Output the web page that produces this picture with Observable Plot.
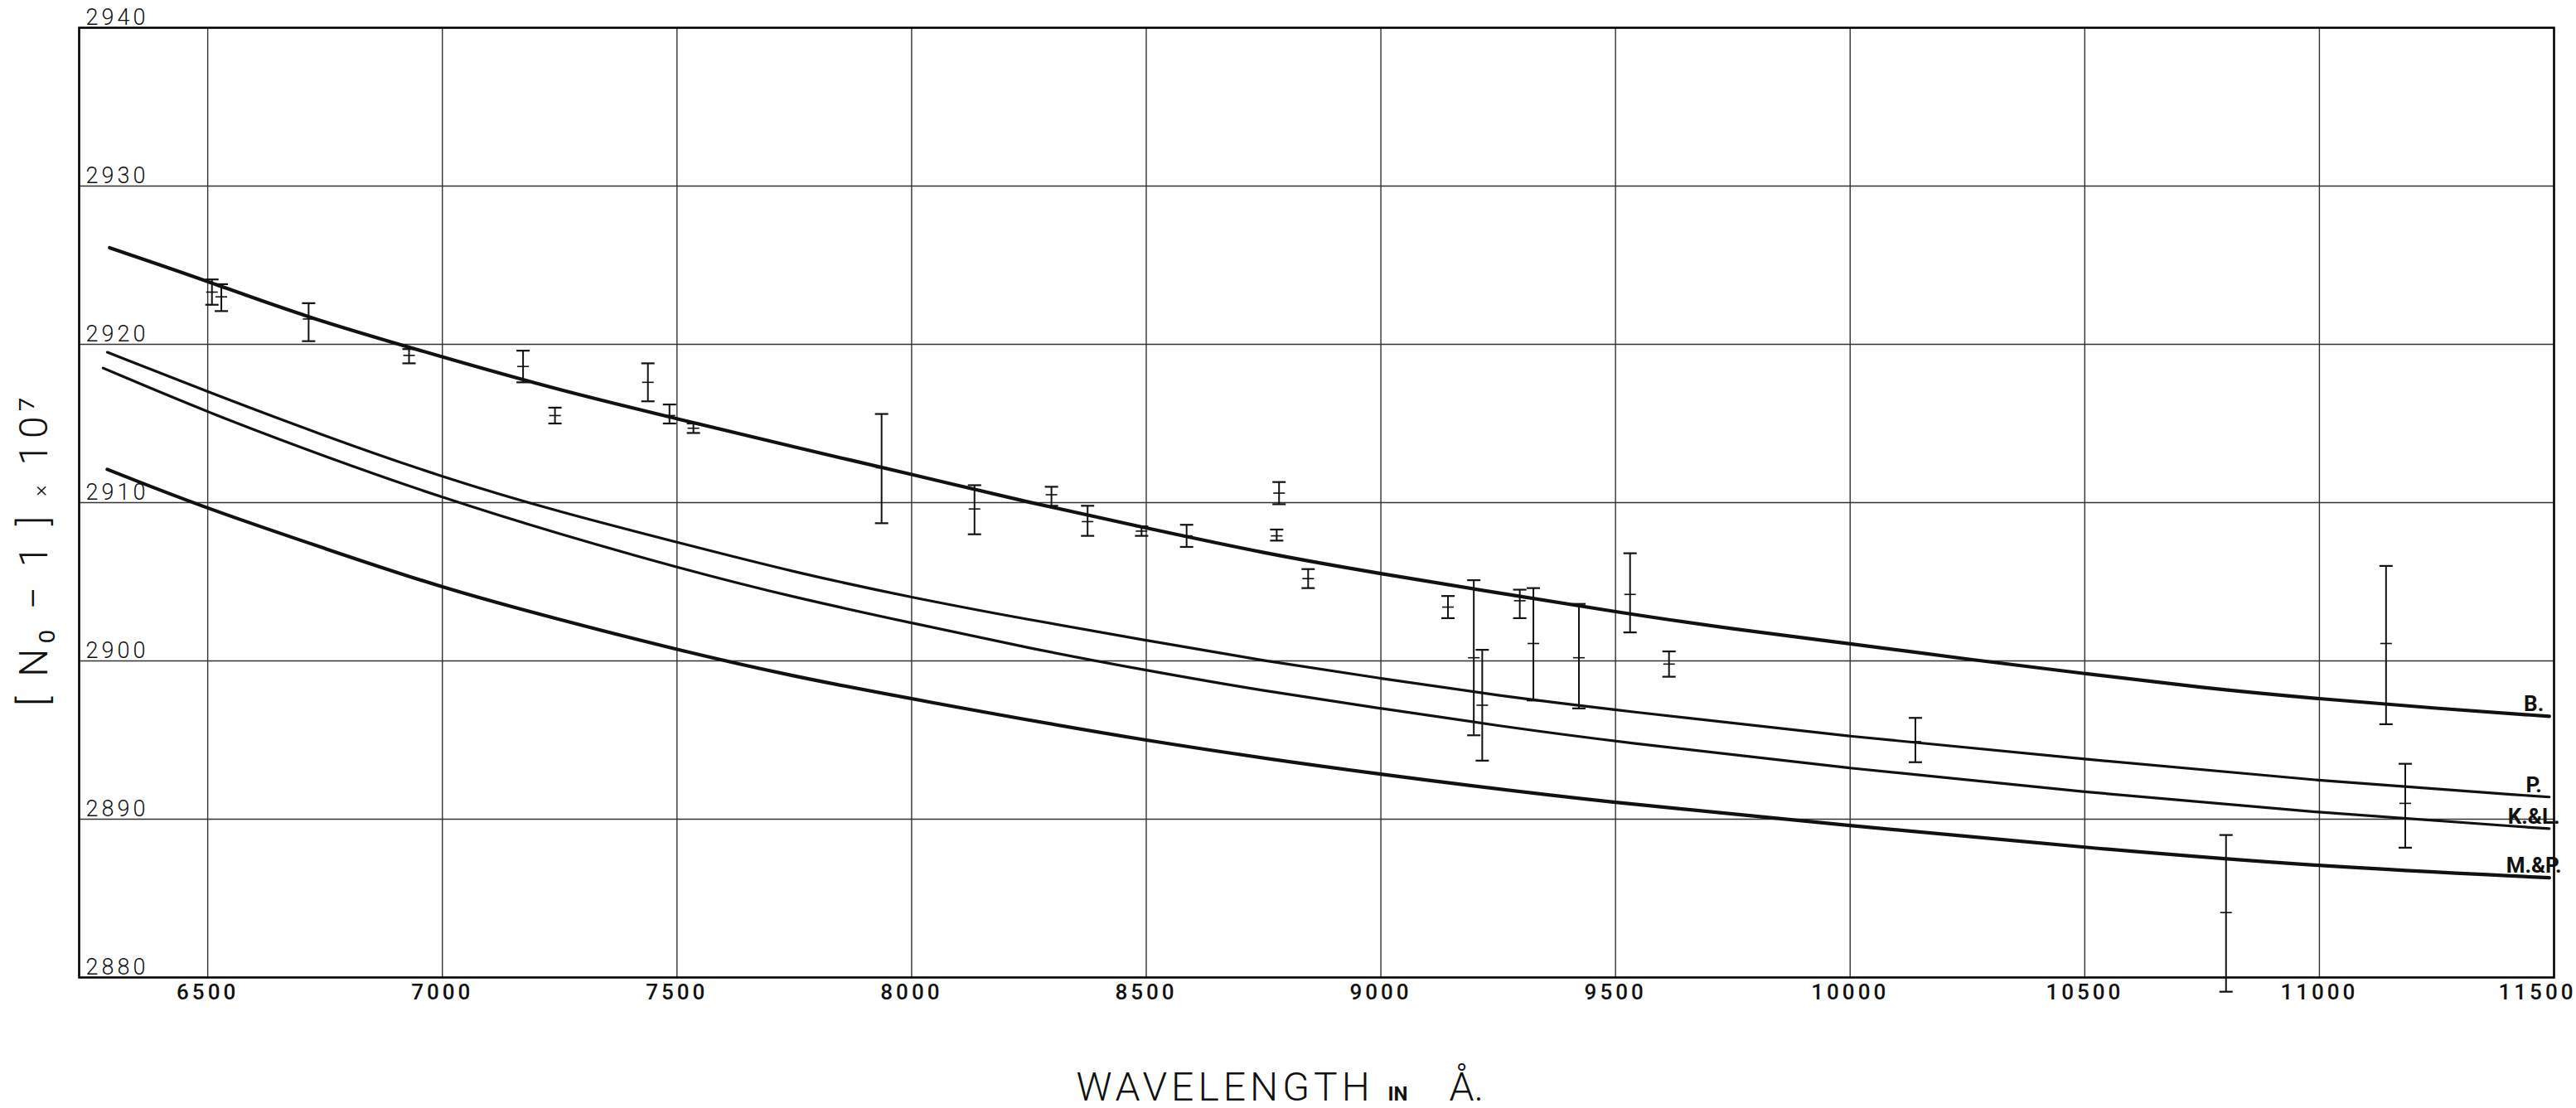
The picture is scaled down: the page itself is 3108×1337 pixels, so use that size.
<!DOCTYPE html>
<html>
<head>
<meta charset="utf-8">
<script src="https://cdn.jsdelivr.net/npm/d3@7"></script>
<script src="https://cdn.jsdelivr.net/npm/@observablehq/plot@0.6"></script>
<style>
  html, body { margin: 0; padding: 0; background: #ffffff; }
  #chart svg { display: block; }
</style>
</head>
<body>
<div id="chart"></div>
<script>
// ---------- data ----------
const xTickValues = [6500, 7000, 7500, 8000, 8500, 9000, 9500, 10000, 10500, 11000, 11500];
const yTickValues = [2880, 2890, 2900, 2910, 2920, 2930, 2940];

// Dispersion curves: [wavelength Å, (N0-1)·10^7]
const curveB = [[6291,2926.1],[6500,2924.0],[6700,2921.8],[7000,2919.2],[7250,2917.1],[7500,2915.3],[7750,2913.5],[8000,2911.8],[8250,2910.0],[8500,2908.4],[8750,2906.8],[9000,2905.5],[9250,2904.3],[9500,2903.1],[9750,2902.0],[10000,2901.1],[10250,2900.1],[10500,2899.2],[10750,2898.3],[11000,2897.6],[11250,2897.0],[11490,2896.5]];
const curveP = [[6286,2919.5],[6500,2917.0],[6750,2914.2],[7000,2911.6],[7250,2909.4],[7500,2907.5],[7750,2905.6],[8000,2904.0],[8250,2902.6],[8500,2901.3],[8750,2900.0],[9000,2898.9],[9250,2897.8],[9500,2896.9],[10000,2895.2],[10500,2893.8],[11000,2892.4],[11490,2891.4]];
const curveKL = [[6277,2918.5],[6500,2915.7],[6750,2912.9],[7000,2910.3],[7250,2908.0],[7500,2905.9],[7750,2904.0],[8000,2902.4],[8250,2900.8],[8500,2899.4],[8750,2898.1],[9000,2897.0],[9250,2895.9],[9500,2894.9],[10000,2893.2],[10500,2891.7],[11000,2890.4],[11490,2889.4]];
const curveMP = [[6286,2912.1],[6500,2909.6],[6750,2907.1],[7000,2904.6],[7250,2902.6],[7500,2900.7],[7750,2899.0],[8000,2897.6],[8500,2894.9],[9000,2892.8],[9500,2891.0],[10000,2889.6],[10500,2888.2],[11000,2887.0],[11490,2886.3]];
const curveNames = ["B.", "P.", "K.&L.", "M.&P."];

// Measured points with error bars
const errWavelength = [6509, 6529, 6715, 6929, 7172, 7240, 7438, 7484, 7535, 7936, 8134, 8298, 8375, 8490, 8586, 8778, 8783, 8845, 9143, 9198, 9216, 9296, 9325, 9422, 9531, 9614, 10139, 10801, 11142, 11183];
const errMid  = [2923.3, 2923.0, 2921.6, 2919.3, 2918.6, 2915.5, 2917.6, 2915.5, 2914.7, 2912.2, 2909.6, 2910.5, 2908.8, 2908.2, 2907.9, 2907.9, 2910.6, 2905.2, 2903.4, 2900.2, 2897.2, 2903.8, 2901.1, 2900.2, 2904.2, 2899.8, 2894.9, 2884.1, 2901.1, 2891.0];
const errLow  = [2922.5, 2922.1, 2920.2, 2918.8, 2917.6, 2915.0, 2916.4, 2915.0, 2914.4, 2908.7, 2908.0, 2909.8, 2907.9, 2907.9, 2907.2, 2907.6, 2909.9, 2904.6, 2902.7, 2895.3, 2893.7, 2902.7, 2897.5, 2897.0, 2901.8, 2899.0, 2893.6, 2879.1, 2896.0, 2888.2];
const errHigh = [2924.1, 2923.8, 2922.6, 2919.7, 2919.6, 2916.0, 2918.8, 2916.2, 2915.0, 2915.6, 2911.1, 2911.0, 2909.8, 2908.5, 2908.6, 2908.3, 2911.3, 2905.8, 2904.1, 2905.1, 2900.7, 2904.5, 2904.6, 2903.6, 2906.8, 2900.6, 2896.4, 2889.0, 2906.0, 2893.5];

// ---------- build tables ----------
const toRows = pts => pts.map(([x, y]) => ({x, y}));
const curves = [curveB, curveP, curveKL, curveMP];
const curveEnds = curves.map((c, i) => ({x: c[c.length - 1][0], y: c[c.length - 1][1], name: curveNames[i]}));
const errRows = errWavelength.map((x, i) => ({x, mid: errMid[i], lo: errLow[i], hi: errHigh[i]}));

// horizontal-bar symbol for error bar caps and centre ticks
const hbar = { draw(ctx, size) { const r = Math.sqrt(size / Math.PI); ctx.moveTo(-r, 0); ctx.lineTo(r, 0); } };

const font = "Roboto, 'Open Sans', sans-serif";
const ink = "#111";

const chart = Plot.plot({
  width: 3108,
  height: 1337,
  marginLeft: 95,
  marginRight: 27,
  marginTop: 33,
  marginBottom: 158,
  x: {domain: [6226, 11500], axis: null},
  y: {domain: [2880, 2940], axis: null},
  style: {background: "#ffffff", fontFamily: font, color: ink, overflow: "visible"},
  marks: [
    // grid
    Plot.ruleX(xTickValues.slice(0, -1), {stroke: "#333", strokeWidth: 1.4}),
    Plot.ruleY(yTickValues.slice(1, -1), {stroke: "#333", strokeWidth: 1.4}),
    Plot.frame({stroke: "#000", strokeWidth: 2.6}),

    // curves
    Plot.line(toRows(curveB),  {x: "x", y: "y", curve: "basis", stroke: ink, strokeWidth: 4.2}),
    Plot.line(toRows(curveP),  {x: "x", y: "y", curve: "basis", stroke: ink, strokeWidth: 3.2}),
    Plot.line(toRows(curveKL), {x: "x", y: "y", curve: "basis", stroke: ink, strokeWidth: 3.2}),
    Plot.line(toRows(curveMP), {x: "x", y: "y", curve: "basis", stroke: ink, strokeWidth: 4.2}),

    // curve labels
    Plot.text(curveEnds, {x: 11457, y: "y", text: "name", lineAnchor: "bottom", dy: -6,
      fontSize: 26, fontWeight: "bold", fill: ink, clip: false}),

    // error bars
    Plot.ruleX(errRows, {x: "x", y1: "lo", y2: "hi", stroke: ink, strokeWidth: 2, clip: false}),
    Plot.dot(errRows, {x: "x", y: "lo", symbol: hbar, r: 8, stroke: ink, strokeWidth: 2.2, fill: "none"}),
    Plot.dot(errRows, {x: "x", y: "hi", symbol: hbar, r: 8, stroke: ink, strokeWidth: 2.2, fill: "none"}),
    Plot.dot(errRows, {x: "x", y: "mid", symbol: hbar, r: 7, stroke: ink, strokeWidth: 1.6, fill: "none"}),

    // y tick labels (inside the frame, above each line)
    Plot.text(yTickValues, {frameAnchor: "left", y: d => d, text: d => String(d), textAnchor: "start",
      lineAnchor: "bottom", dx: 8, dy: -4, fontSize: 27, fontWeight: 300, fill: ink}),

    // x tick labels
    Plot.text(xTickValues.slice(0, -1), {x: d => d, frameAnchor: "bottom", text: d => String(d),
      lineAnchor: "top", dy: 8, fontSize: 26, fontWeight: 500, fill: ink}),
    Plot.text(xTickValues.slice(-1), {x: d => d, frameAnchor: "bottom", text: d => String(d),
      lineAnchor: "top", dy: 8, dx: -20, fontSize: 26, fontWeight: 500, fill: ink}),

    // x title
    Plot.text(["WAVELENGTH"], {frameAnchor: "bottom", text: d => d, textAnchor: "start", lineAnchor: "bottom",
      dx: -290, dy: 148, fontSize: 48, fontWeight: 300, fill: ink}),
    Plot.text(["IN"], {frameAnchor: "bottom", text: d => d, textAnchor: "start", lineAnchor: "bottom",
      dx: 86, dy: 148, fontSize: 24, fontWeight: "bold", fill: ink}),
    Plot.text(["Å."], {frameAnchor: "bottom", text: d => d, textAnchor: "start", lineAnchor: "bottom",
      dx: 160, dy: 148, fontSize: 48, fontWeight: 300, fill: ink}),

    // y title
    Plot.text(["[ N₀ − 1 ] × 10⁷"], {frameAnchor: "left", text: d => d, rotate: -90, textAnchor: "middle",
      lineAnchor: "middle", dx: -54, dy: 56, fontSize: 48, fontWeight: 300, fill: ink})
  ]
});

const svg = d3.select(chart);
// letter spacing for the lettered texts
svg.selectAll("text").filter(function () {
  return /^\d{4,5}$/.test(this.textContent);
}).style("letter-spacing", "4px");
svg.selectAll("text").filter(function () {
  return this.textContent === "WAVELENGTH";
}).style("letter-spacing", "5px");
// y title: smaller multiplication sign, spaced lettering
svg.selectAll("text").filter(function () {
  return this.textContent.startsWith("[ N");
}).each(function () {
  const t = d3.select(this);
  t.text(null).style("letter-spacing", "6px");
  t.append("tspan").text("[ N₀ − 1 ] ");
  t.append("tspan").attr("font-size", 26).text("×");
  t.append("tspan").text(" 10⁷");
});

document.getElementById("chart").appendChild(chart);
</script>
</body>
</html>
